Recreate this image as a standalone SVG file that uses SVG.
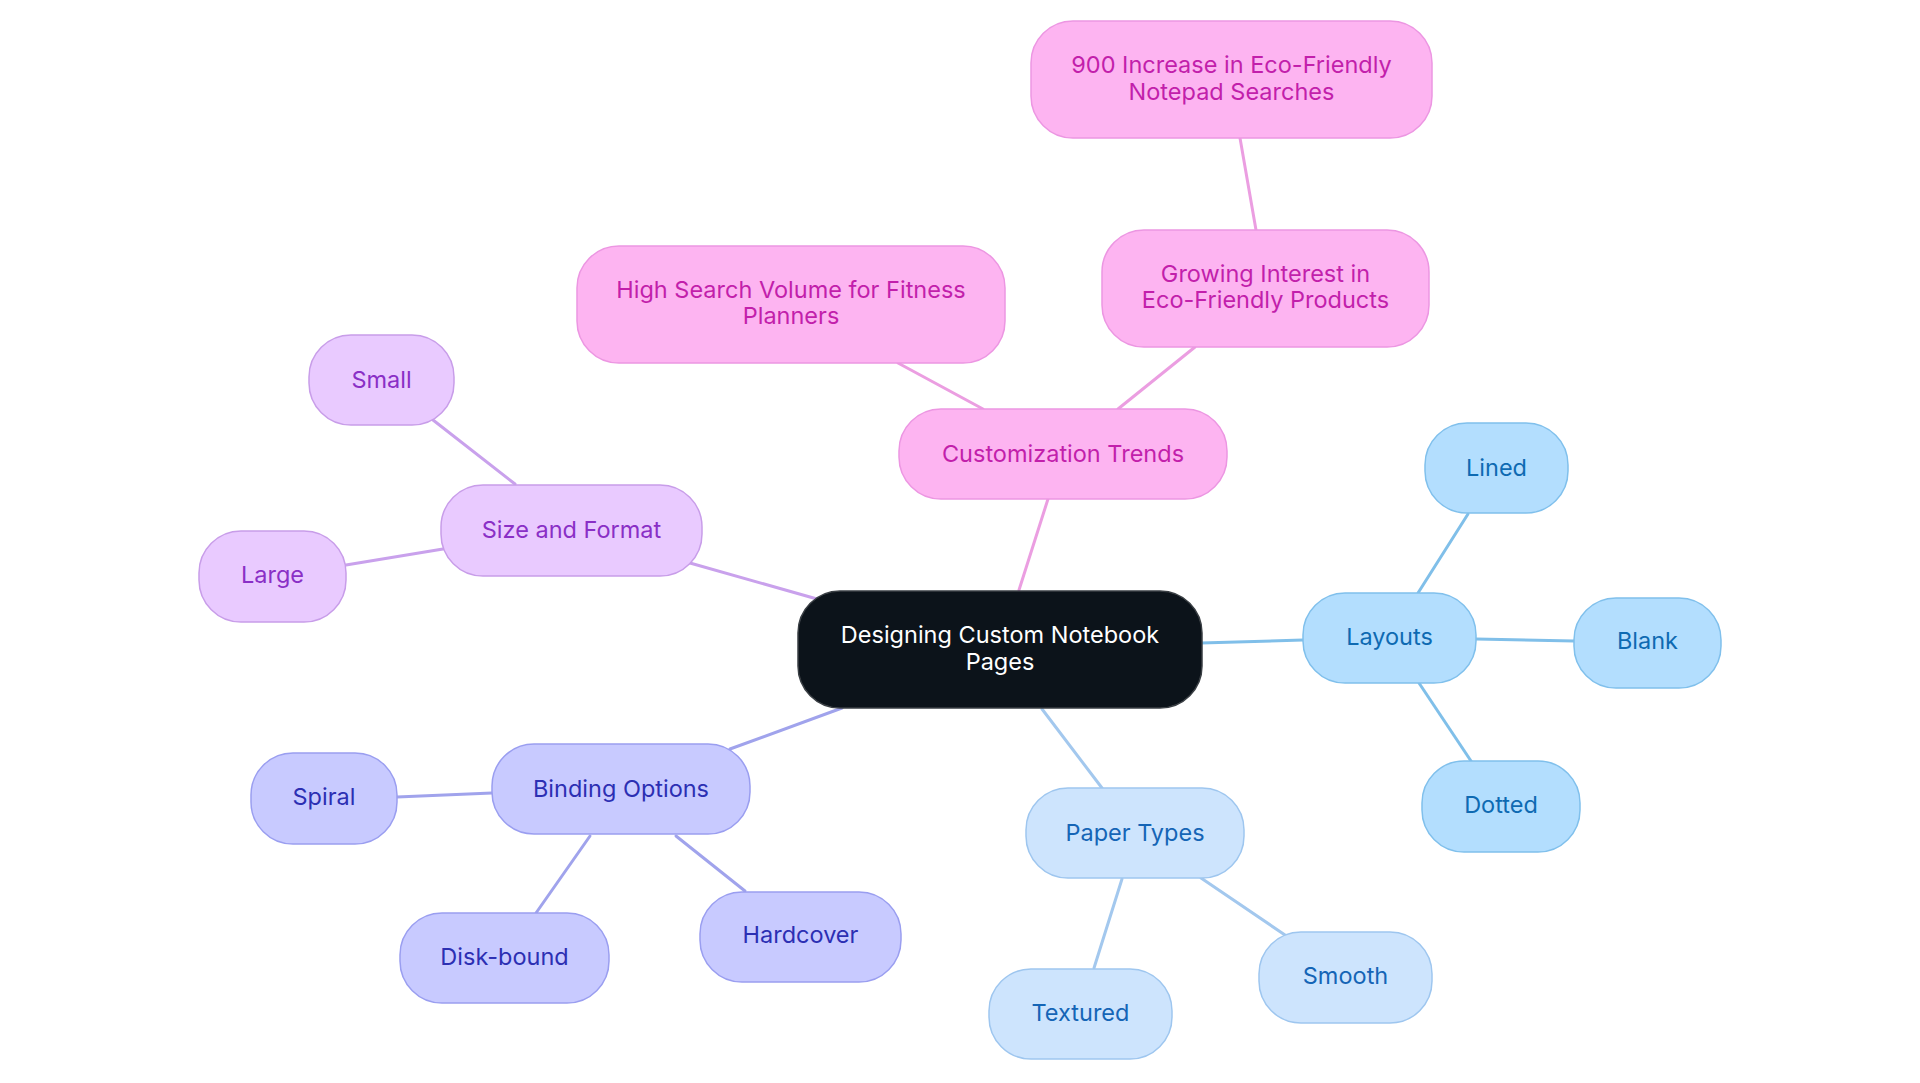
<svg xmlns="http://www.w3.org/2000/svg" width="1920" height="1083" viewBox="0 0 1920 1083">
<style>
text{font-family:Inter,"Noto Sans","Liberation Sans",sans-serif;font-size:23.5px;text-anchor:middle}
.e{stroke-width:3;fill:none;stroke-linecap:round}
.n rect{stroke-width:1.5}
.root rect{fill:#0c131a;stroke:#3a3f44}
.root text{fill:#ffffff}
.pk rect{fill:#fdb4f1;stroke:#ec96e2}
.pk text{fill:#c21fab}
.pu rect{fill:#e9caff;stroke:#c89de9}
.pu text{fill:#8a2fc6}
.in rect{fill:#c8caff;stroke:#9a9ef0}
.in text{fill:#2c2fb3}
.lb rect{fill:#cde4fd;stroke:#9ec6ef}
.lb text{fill:#1565b6}
.sk rect{fill:#b3defe;stroke:#80c0ec}
.sk text{fill:#0e6ab2}
</style>
<rect width="1920" height="1083" fill="#ffffff"/>
<g id="connectors">
<line class="e" stroke="#eb9ee1" x1="1019" y1="590" x2="1048" y2="499"/>
<line class="e" stroke="#eb9ee1" x1="983" y1="409" x2="898" y2="363"/>
<line class="e" stroke="#eb9ee1" x1="1118" y1="409" x2="1195" y2="347"/>
<line class="e" stroke="#eb9ee1" x1="1256" y1="230" x2="1240" y2="138"/>
<line class="e" stroke="#c9a1ec" x1="817" y1="599" x2="690" y2="563"/>
<line class="e" stroke="#c9a1ec" x1="515" y1="484" x2="433" y2="420"/>
<line class="e" stroke="#c9a1ec" x1="443" y1="549" x2="346" y2="565"/>
<line class="e" stroke="#a0a3ec" x1="842" y1="708" x2="730" y2="749"/>
<line class="e" stroke="#a0a3ec" x1="492" y1="793" x2="397" y2="797"/>
<line class="e" stroke="#a0a3ec" x1="590" y1="836" x2="536" y2="913"/>
<line class="e" stroke="#a0a3ec" x1="676" y1="836" x2="745" y2="891"/>
<line class="e" stroke="#a3c8ee" x1="1042" y1="709" x2="1102" y2="788"/>
<line class="e" stroke="#a3c8ee" x1="1122" y1="879" x2="1094" y2="968"/>
<line class="e" stroke="#a3c8ee" x1="1201" y1="878" x2="1285" y2="935"/>
<line class="e" stroke="#80bfe9" x1="1201" y1="643" x2="1303" y2="640"/>
<line class="e" stroke="#80bfe9" x1="1418" y1="593" x2="1468" y2="514"/>
<line class="e" stroke="#80bfe9" x1="1476" y1="639" x2="1574" y2="641"/>
<line class="e" stroke="#80bfe9" x1="1419" y1="683" x2="1471" y2="761"/>
</g>
<g id="root" class="n root"><rect x="798" y="591" width="404" height="117" rx="42"/><text x="1000" y="643">Designing Custom Notebook</text><text x="1000" y="670">Pages</text></g>
<g id="eco-searches" class="n pk"><rect x="1031" y="21" width="401" height="117" rx="42"/><text x="1231.5" y="73">900 Increase in Eco-Friendly</text><text x="1231.5" y="100">Notepad Searches</text></g>
<g id="eco-interest" class="n pk"><rect x="1102" y="230" width="327" height="117" rx="42"/><text x="1265.5" y="282">Growing Interest in</text><text x="1265.5" y="308">Eco-Friendly Products</text></g>
<g id="fitness" class="n pk"><rect x="577" y="246" width="428" height="117" rx="42"/><text x="791" y="298">High Search Volume for Fitness</text><text x="791" y="324">Planners</text></g>
<g id="trends" class="n pk"><rect x="899" y="409" width="328" height="90" rx="42"/><text x="1063" y="462">Customization Trends</text></g>
<g id="size" class="n pu"><rect x="441" y="485" width="261" height="91" rx="42"/><text x="571.5" y="538">Size and Format</text></g>
<g id="small" class="n pu"><rect x="309" y="335" width="145" height="90" rx="42"/><text x="381.5" y="388">Small</text></g>
<g id="large" class="n pu"><rect x="199" y="531" width="147" height="91" rx="42"/><text x="272.5" y="583">Large</text></g>
<g id="binding" class="n in"><rect x="492" y="744" width="258" height="90" rx="42"/><text x="621" y="797">Binding Options</text></g>
<g id="spiral" class="n in"><rect x="251" y="753" width="146" height="91" rx="42"/><text x="324" y="805">Spiral</text></g>
<g id="disk" class="n in"><rect x="400" y="913" width="209" height="90" rx="42"/><text x="504.5" y="965">Disk-bound</text></g>
<g id="hardcover" class="n in"><rect x="700" y="892" width="201" height="90" rx="42"/><text x="800.5" y="943">Hardcover</text></g>
<g id="paper" class="n lb"><rect x="1026" y="788" width="218" height="90" rx="42"/><text x="1135" y="841">Paper Types</text></g>
<g id="textured" class="n lb"><rect x="989" y="969" width="183" height="90" rx="42"/><text x="1080.5" y="1021">Textured</text></g>
<g id="smooth" class="n lb"><rect x="1259" y="932" width="173" height="91" rx="42"/><text x="1345.5" y="984">Smooth</text></g>
<g id="layouts" class="n sk"><rect x="1303" y="593" width="173" height="90" rx="42"/><text x="1389.5" y="645">Layouts</text></g>
<g id="lined" class="n sk"><rect x="1425" y="423" width="143" height="90" rx="42"/><text x="1496.5" y="476">Lined</text></g>
<g id="blank" class="n sk"><rect x="1574" y="598" width="147" height="90" rx="42"/><text x="1647.5" y="649">Blank</text></g>
<g id="dotted" class="n sk"><rect x="1422" y="761" width="158" height="91" rx="42"/><text x="1501" y="813">Dotted</text></g>
</svg>
